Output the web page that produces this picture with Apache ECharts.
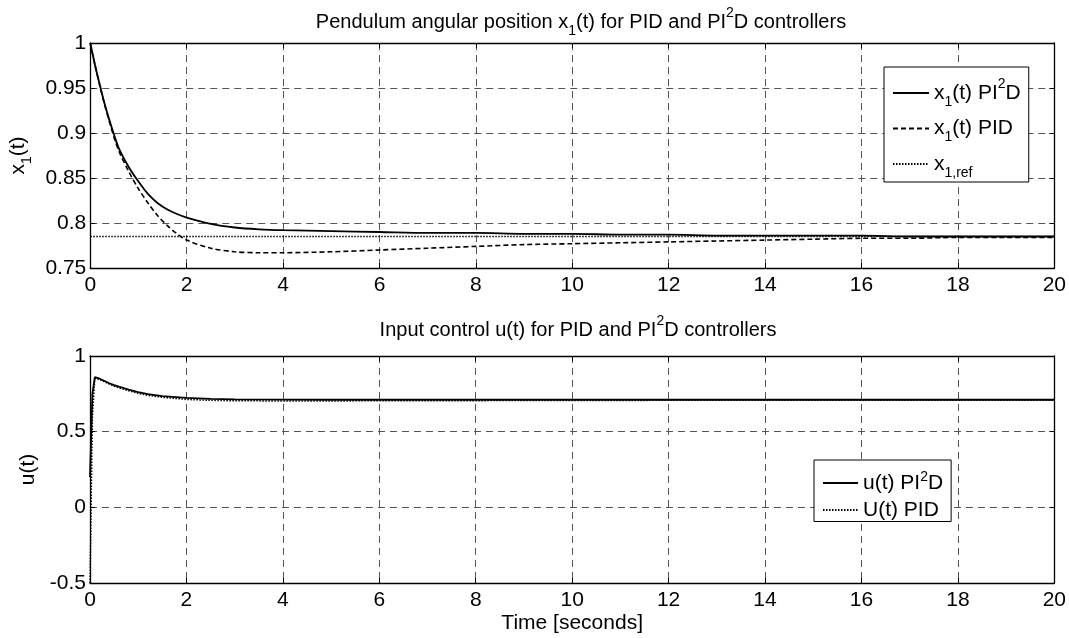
<!DOCTYPE html>
<html><head><meta charset="utf-8">
<script src="https://cdn.jsdelivr.net/npm/echarts@6/dist/echarts.min.js"></script>
<style>html,body{margin:0;padding:0;background:#fff}#c{width:1069px;height:638px}</style>
</head><body><div id="c"></div>
<script>
// ---- data ----
const tTop   = [0,0.1,0.2,0.3,0.4,0.5,0.6,0.8,1,1.2,1.4,1.6,1.8,2,2.5,3,3.5,4,5,6,7,8,9,10,11,12,13,14,15,16,17,18,19,20];
const x1PI2D = [1.000,0.975,0.953,0.932,0.914,0.897,0.882,0.862,0.846,0.832,0.822,0.815,0.810,0.806,0.799,0.795,0.793,0.792,0.791,0.790,0.789,0.789,0.788,0.788,0.787,0.787,0.786,0.786,0.786,0.786,0.785,0.785,0.785,0.785];
const x1PID  = [1.000,0.975,0.952,0.931,0.912,0.894,0.879,0.857,0.838,0.822,0.808,0.797,0.788,0.781,0.772,0.768,0.767,0.767,0.768,0.770,0.772,0.774,0.776,0.777,0.778,0.779,0.780,0.781,0.782,0.783,0.783,0.784,0.784,0.784];
const tRef   = [0,20];
const x1Ref  = [0.785,0.785];
const tBot   = [0,0.05,0.1,0.2,0.3,0.4,0.5,0.6,0.8,1,1.2,1.5,2,2.5,3,4,5,6,8,10,12,14,16,18,20];
const uPI2D  = [0.20,0.75,0.86,0.85,0.835,0.82,0.808,0.797,0.778,0.762,0.748,0.735,0.723,0.717,0.714,0.712,0.711,0.711,0.711,0.711,0.711,0.711,0.711,0.711,0.711];
const uPID   = [-0.50,0.60,0.85,0.845,0.83,0.815,0.80,0.79,0.77,0.753,0.74,0.727,0.713,0.707,0.704,0.703,0.703,0.704,0.705,0.706,0.707,0.707,0.708,0.708,0.708];
const xTicks = {min:0, max:20, interval:2};
const yTopTicks = {min:0.75, max:1, interval:0.05};
const yBotTicks = {min:-0.5, max:1, interval:0.5};

const FONT = '"Liberation Sans", Arial, sans-serif';
const FS = 21;
const zip = (a,b) => a.map((v,i)=>[v,b[i]]);

function mkRich(fs, lh, subFs, supLh){
  return {
    a:{fontFamily:FONT,fontSize:fs,fontWeight:'normal',color:'#000',lineHeight:lh},
    s:{fontFamily:FONT,fontSize:subFs,fontWeight:'normal',color:'#000',lineHeight:subFs,verticalAlign:'bottom'},
    p:{fontFamily:FONT,fontSize:subFs,fontWeight:'normal',color:'#000',lineHeight:supLh,verticalAlign:'top'}
  };
}
const richT = mkRich(20, 32, 14, 19);
const richL = mkRich(FS, 32, 14, 19);
const richL2 = mkRich(FS, 26, 14, 16);

const gridLine = {show:true, lineStyle:{color:'#555', width:1, type:[7,5]}};
function mainX(gi, name){
  return {type:'value', gridIndex:gi, ...xTicks, position:'bottom',
    axisLine:{show:true, onZero:false, lineStyle:{color:'#000', width:1.3}},
    axisTick:{show:true, inside:true, length:5, lineStyle:{color:'#000'}},
    axisLabel:{color:'#000', fontFamily:FONT, fontSize:FS, margin:7},
    splitLine:gridLine,
    name:name||'', nameLocation:'middle', nameGap:30,
    nameTextStyle:{color:'#000', fontFamily:FONT, fontSize:FS}};
}
function mirrorX(gi){
  return {type:'value', gridIndex:gi, ...xTicks, position:'top',
    axisLine:{show:true, onZero:false, lineStyle:{color:'#000', width:1.3}},
    axisTick:{show:true, inside:true, length:5, lineStyle:{color:'#000'}},
    axisLabel:{show:false}, splitLine:{show:false}};
}
function mainY(gi, ticks, name, gap){
  return {type:'value', gridIndex:gi, ...ticks, position:'left',
    axisLine:{show:true, onZero:false, lineStyle:{color:'#000', width:1.3}},
    axisTick:{show:true, inside:true, length:5, lineStyle:{color:'#000'}},
    axisLabel:{color:'#000', fontFamily:FONT, fontSize:FS, margin:4, formatter:v=>String(+v.toFixed(2))},
    splitLine:gridLine,
    name:name, nameLocation:'middle', nameGap:gap, nameRotate:90,
    nameTextStyle:{color:'#000', fontFamily:FONT, fontSize:FS, rich:richL}};
}
function mirrorY(gi, ticks){
  return {type:'value', gridIndex:gi, ...ticks, position:'right',
    axisLine:{show:true, onZero:false, lineStyle:{color:'#000', width:1.3}},
    axisTick:{show:true, inside:true, length:5, lineStyle:{color:'#000'}},
    axisLabel:{show:false}, splitLine:{show:false}};
}

const legendNames = {
  'x1PI2D':'{a|x}{s|1}{a|(t) PI}{p|2}{a|D}',
  'x1PID':'{a|x}{s|1}{a|(t) PID}',
  'x1ref':'{a|x}{s|1,ref}',
  'uPI2D':'{a|u(t) PI}{p|2}{a|D}',
  'uPID':'{a|U(t) PID}'
};
const hideSym = {color:'rgba(0,0,0,0)', opacity:0, borderWidth:0};

const chart = echarts.init(document.getElementById('c'));
chart.setOption({
  animation:false,
  backgroundColor:'#fff',
  title:[
    {text:'{a|Pendulum angular position x}{s|1}{a|(t) for PID and PI}{p|2}{a|D controllers}',
     left:576, top:1, textAlign:'center', textStyle:{rich:richT}},
    {text:'{a|Input control u(t) for PID and PI}{p|2}{a|D controllers}',
     left:573, top:309, textAlign:'center', textStyle:{rich:richT}}
  ],
  grid:[
    {left:90, top:43, width:967, height:225},
    {left:90, top:356, width:967, height:227}
  ],
  xAxis:[mainX(0), mirrorX(0), mainX(1,'Time [seconds]'), mirrorX(1)],
  yAxis:[mainY(0, yTopTicks, '{a|x}{s|1}{a|(t)}', 46), mirrorY(0, yTopTicks),
         mainY(1, yBotTicks, '{a|u(t)}', 38), mirrorY(1, yBotTicks)],
  legend:[
    {data:['x1PI2D','x1PID','x1ref'], orient:'vertical', left:884, top:67,
     padding:[10,8,2,8], itemGap:9, itemWidth:36, itemHeight:14,
     backgroundColor:'#fff', borderColor:'#000', borderWidth:1, borderRadius:0,
     itemStyle:hideSym,
     formatter:n=>legendNames[n], textStyle:{rich:richL}},
    {data:['uPI2D','uPID'], orient:'vertical', left:814, top:460,
     padding:[10,8,1,8], itemGap:6, itemWidth:35, itemHeight:14,
     backgroundColor:'#fff', borderColor:'#000', borderWidth:1, borderRadius:0,
     itemStyle:hideSym,
     formatter:n=>legendNames[n], textStyle:{rich:richL2}}
  ],
  series:[
    {name:'x1PI2D', type:'line', xAxisIndex:0, yAxisIndex:0, data:zip(tTop,x1PI2D), symbol:'none', smooth:0.3,
     lineStyle:{color:'#000', width:1.8, type:'solid'}, itemStyle:{color:'#000'}},
    {name:'x1PID', type:'line', xAxisIndex:0, yAxisIndex:0, data:zip(tTop,x1PID), symbol:'none', smooth:0.3,
     lineStyle:{color:'#000', width:1.6, type:[5,3]}, itemStyle:{color:'#000'}},
    {name:'x1ref', type:'line', xAxisIndex:0, yAxisIndex:0, data:zip(tRef,x1Ref), symbol:'none',
     lineStyle:{color:'#000', width:1.5, type:[1.5,1.5]}, itemStyle:{color:'#000'}},
    {name:'uPI2D', type:'line', xAxisIndex:2, yAxisIndex:2, data:zip(tBot,uPI2D), symbol:'none',
     lineStyle:{color:'#000', width:1.8, type:'solid'}, itemStyle:{color:'#000'}},
    {name:'uPID', type:'line', xAxisIndex:2, yAxisIndex:2, data:zip(tBot,uPID), symbol:'none',
     lineStyle:{color:'#000', width:1.5, type:[1.5,1.5]}, itemStyle:{color:'#000'}}
  ]
});
</script>
</body></html>
